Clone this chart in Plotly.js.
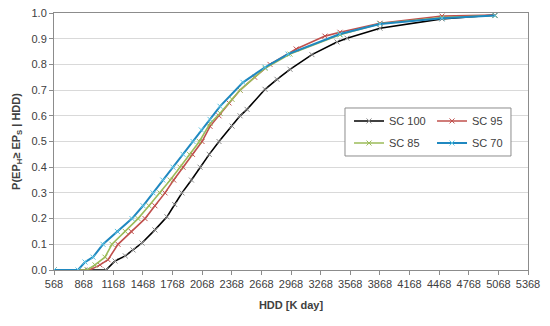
<!DOCTYPE html>
<html>
<head>
<meta charset="utf-8">
<script src="https://cdn.plot.ly/plotly-3.0.1.min.js"></script>
<style>html,body{margin:0;padding:0;background:#fff;}#chart{width:550px;height:326px;}</style>
</head>
<body>
<div id="chart"></div>
<script>
// Series names
const seriesNames = ["SC 100", "SC 95", "SC 85", "SC 70"];

// SC 100 (black)
const hdd100 = [568, 912, 1095, 1186, 1290, 1368, 1459, 1590, 1712, 1790, 1864, 1960, 2047, 2140, 2239, 2371, 2452, 2523, 2705, 2826, 2958, 3180, 3434, 3535, 3869, 4497, 5034];
const p100   = [0, 0, 0, 0.035, 0.055, 0.078, 0.105, 0.156, 0.207, 0.255, 0.300, 0.350, 0.400, 0.450, 0.500, 0.560, 0.600, 0.625, 0.703, 0.742, 0.781, 0.838, 0.887, 0.902, 0.941, 0.977, 0.992];

// SC 95 (red)
const hdd95 = [568, 930, 1034, 1115, 1216, 1350, 1490, 1590, 1692, 1780, 1874, 1970, 2067, 2148, 2239, 2340, 2452, 2600, 2755, 3020, 3312, 3464, 3869, 4497, 5034];
const p95   = [0, 0, 0.020, 0.040, 0.100, 0.150, 0.200, 0.250, 0.300, 0.350, 0.400, 0.450, 0.500, 0.559, 0.600, 0.650, 0.700, 0.750, 0.800, 0.860, 0.910, 0.925, 0.960, 0.988, 0.992];

// SC 85 (green)
const hdd85 = [568, 902, 983, 1084, 1155, 1290, 1419, 1530, 1641, 1745, 1844, 1940, 2040, 2148, 2250, 2371, 2452, 2705, 2958, 3464, 3869, 4497, 5034];
const p85   = [0, 0, 0.020, 0.050, 0.100, 0.150, 0.200, 0.250, 0.300, 0.350, 0.400, 0.450, 0.500, 0.570, 0.610, 0.664, 0.700, 0.785, 0.840, 0.915, 0.958, 0.982, 0.990];

// SC 70 (blue)
const hdd70 = [568, 811, 882, 963, 1064, 1210, 1358, 1470, 1571, 1670, 1773, 1875, 1976, 2060, 2148, 2249, 2482, 2705, 2938, 3464, 3869, 4497, 5034];
const p70   = [0, 0, 0.031, 0.050, 0.100, 0.150, 0.200, 0.250, 0.300, 0.350, 0.400, 0.450, 0.500, 0.545, 0.586, 0.637, 0.730, 0.789, 0.840, 0.918, 0.957, 0.980, 0.990];

// Axis ticks
const xTicks = [568, 868, 1168, 1468, 1768, 2068, 2368, 2668, 2968, 3268, 3568, 3868, 4168, 4468, 4768, 5068, 5368];
const yTicks = [0, 0.1, 0.2, 0.3, 0.4, 0.5, 0.6, 0.7, 0.8, 0.9, 1.0];

const FONT = "Liberation Sans, Arial, sans-serif";

function tr(name, x, y, lineColor, markerColor, width, leg) {
  return {
    type: "scatter", mode: "lines+markers", name: name, x: x, y: y, legend: leg,
    line: {color: lineColor, width: width},
    marker: {symbol: "x-thin-open", size: 5, color: markerColor, line: {color: markerColor, width: 1}}
  };
}

const data = [
  tr(seriesNames[0], hdd100, p100, "#000000", "#8a8a8a", 1.6, "legend"),
  tr(seriesNames[1], hdd95, p95, "#C0504D", "#C0504D", 1.6, "legend"),
  tr(seriesNames[2], hdd85, p85, "#9BBB59", "#9BBB59", 1.6, "legend2"),
  tr(seriesNames[3], hdd70, p70, "#1F88C0", "#5CC3E0", 2, "legend2")
];

const legFont = {family: FONT, size: 11, color: "#404040"};
const legCommon = {
  orientation: "h", xanchor: "left", yanchor: "middle",
  bgcolor: "rgba(0,0,0,0)", borderwidth: 0, font: legFont,
  itemwidth: 30, traceorder: "normal", entrywidth: 38, entrywidthmode: "pixels"
};

const layout = {
  width: 550, height: 326,
  margin: {l: 54, r: 22, t: 13, b: 56},
  paper_bgcolor: "#ffffff", plot_bgcolor: "#ffffff",
  font: {family: FONT, size: 11, color: "#404040"},
  showlegend: true,
  legend: Object.assign({}, legCommon, {x: 0.6224, y: 0.58}),
  legend2: Object.assign({}, legCommon, {x: 0.6224, y: 0.494}),
  shapes: [{
    type: "rect", xref: "paper", yref: "paper", layer: "above",
    x0: 0.6139, x1: 0.9641, y0: 0.4436, y1: 0.6304,
    fillcolor: "#ffffff", line: {color: "#8c8c8c", width: 1}
  }],
  xaxis: {
    range: [568, 5368], tickmode: "array", tickvals: xTicks, ticktext: xTicks.map(String),
    showgrid: false, zeroline: false,
    showline: true, linecolor: "#8c8c8c", linewidth: 1, mirror: true,
    ticks: "outside", ticklen: 4, tickcolor: "#8c8c8c",
    tickfont: {family: FONT, size: 11, color: "#404040"},
    title: {text: "<b>HDD [K day]</b>", font: {family: FONT, size: 11, color: "#404040"}, standoff: 12}
  },
  yaxis: {
    range: [0, 1], tickmode: "array", tickvals: yTicks, ticktext: yTicks.map(v => v.toFixed(1)),
    showgrid: true, gridcolor: "#d9d9d9", gridwidth: 1, zeroline: false,
    showline: true, linecolor: "#8c8c8c", linewidth: 1, mirror: true,
    ticks: "outside", ticklen: 4, tickcolor: "#8c8c8c",
    tickfont: {family: FONT, size: 11, color: "#404040"},
    title: {text: "<b>P(EP<sub>H</sub>≥ EP<sub>S</sub> | HDD)</b>", font: {family: FONT, size: 11, color: "#404040"}, standoff: 8}
  }
};

Plotly.newPlot("chart", data, layout, {displayModeBar: false, staticPlot: true});
</script>
</body>
</html>
